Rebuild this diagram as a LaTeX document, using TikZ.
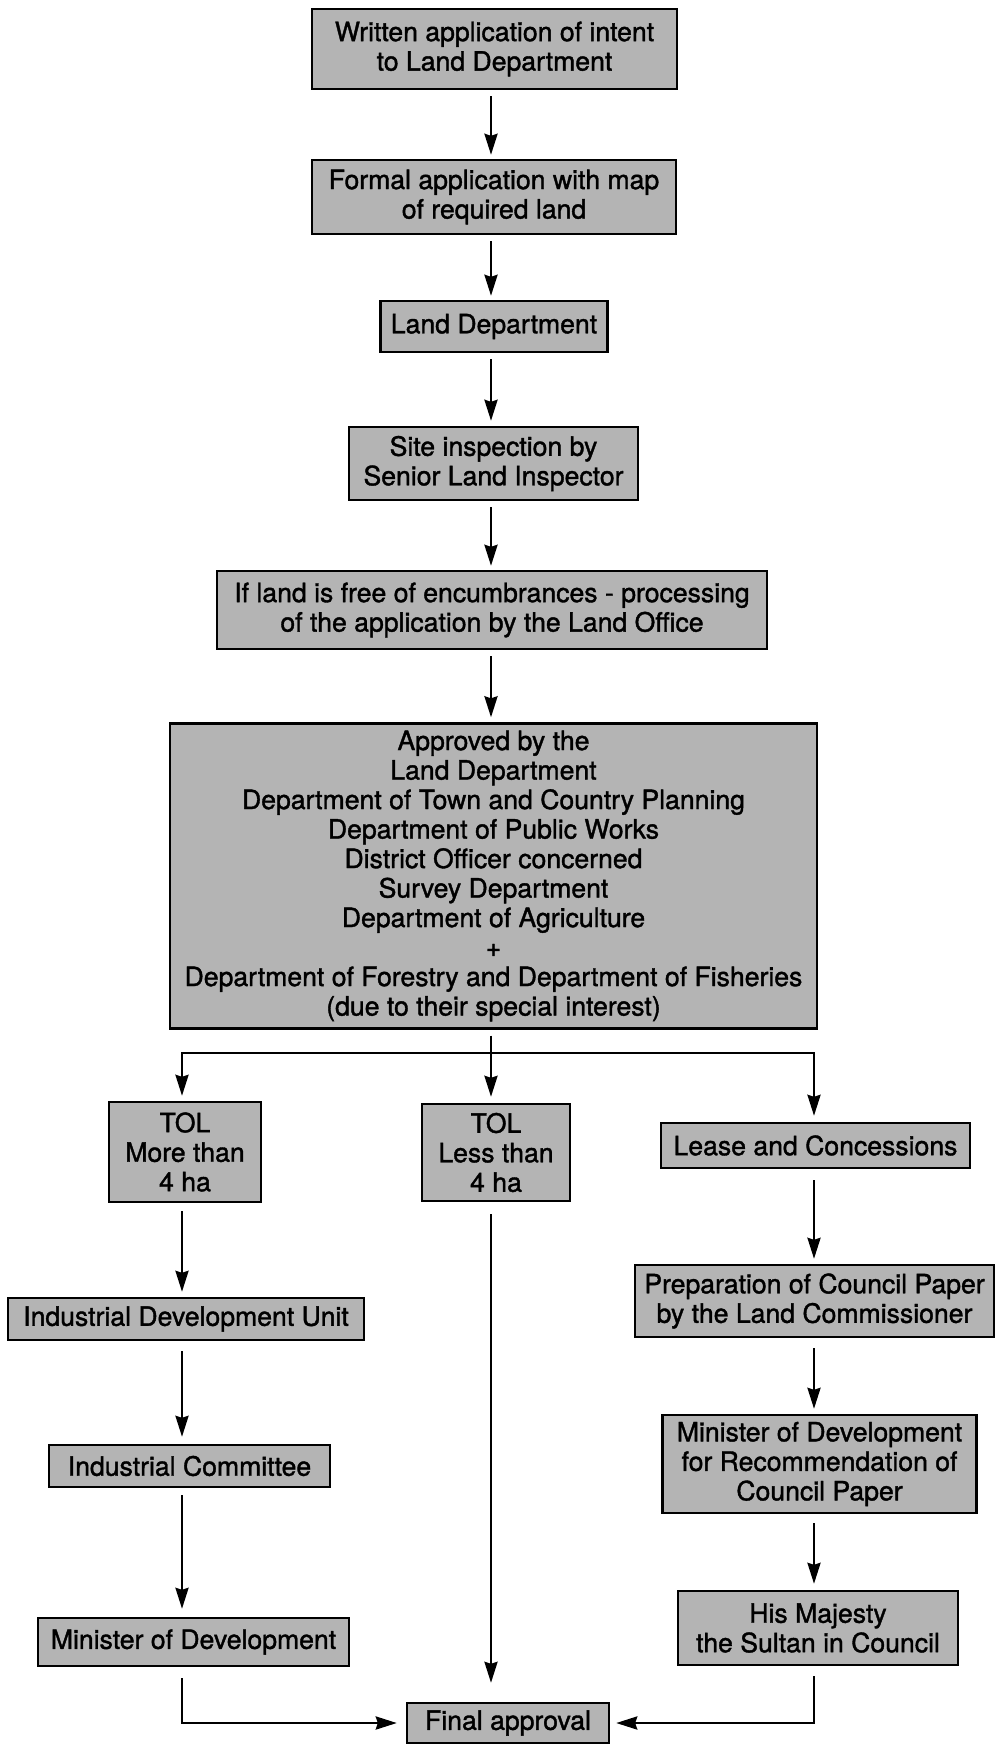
\documentclass[tikz,border=0pt]{standalone}
\usepackage{fontspec}
\setmainfont{TeX Gyre Heros}
\newfontfamily\heavyfont{TeX Gyre Heros}[FakeBold=1.4]
\usetikzlibrary{arrows.meta}
\definecolor{boxgray}{RGB}{180,180,180}
\newcommand{\boxfont}{\heavyfont\fontsize{26.6}{29.5}\selectfont}
\tikzset{
  box/.style={draw, line width=2.4pt, fill=boxgray, inner sep=0pt, align=center, font=\boxfont},
  arr/.style={-{Stealth[length=21pt,width=13pt,inset=2pt]}, line width=2.6pt},
  plain/.style={line width=2.6pt}
}
\begin{document}
\begin{tikzpicture}[x=1pt,y=-1pt]
\useasboundingbox[fill=white] (0,0) rectangle (995,1745);
% column coordinates
\coordinate (cM) at (491,0);
\coordinate (cL) at (182,0);
\coordinate (cR) at (814,0);
\coordinate (split) at (491,1053);
% main column
\node[box, minimum width=365pt, minimum height=80pt] (b1) at (494.5,49) {Written application of intent\\to Land Department};
\node[box, minimum width=364pt, minimum height=74pt] (b2) at (494,197) {Formal application with map\\of required land};
\node[box, minimum width=227pt, minimum height=51pt] (b3) at (494,326.5) {Land Department};
\node[box, minimum width=289pt, minimum height=73pt] (b4) at (493.5,463.5) {Site inspection by\\Senior Land Inspector};
\node[box, minimum width=550pt, minimum height=78pt] (b5) at (492,610) {If land is free of encumbrances - processing\\of the application by the Land Office};
\node[box, minimum width=647pt, minimum height=305pt] (b6) at (493.5,876) {Approved by the\\Land Department\\Department of Town and Country Planning\\Department of Public Works\\District Officer concerned\\Survey Department\\Department of Agriculture\\+\\Department of Forestry and Department of Fisheries\\(due to their special interest)};
% branches
\node[box, minimum width=152pt, minimum height=100pt] (tolm) at (185,1152) {TOL\\More than\\4 ha};
\node[box, minimum width=148pt, minimum height=97pt] (toll) at (496,1152.5) {TOL\\Less than\\4 ha};
\node[box, minimum width=309pt, minimum height=45pt] (lease) at (815.5,1145.5) {Lease and Concessions};
% left column
\node[box, minimum width=356pt, minimum height=42pt] (idu) at (186,1319) {Industrial Development Unit};
\node[box, minimum width=281pt, minimum height=42pt] (ic) at (189.5,1466) {Industrial Committee};
\node[box, minimum width=311pt, minimum height=48pt] (mod) at (193.5,1642) {Minister of Development};
% right column
\node[box, minimum width=359pt, minimum height=72pt] (prep) at (814.5,1301) {Preparation of Council Paper\\by the Land Commissioner};
\node[box, minimum width=314pt, minimum height=98pt] (mdr) at (819.5,1464) {Minister of Development\\for Recommendation of\\Council Paper};
\node[box, minimum width=280pt, minimum height=74pt] (hm) at (818,1628) {His Majesty\\the Sultan in Council};
% final
\node[box, minimum width=202pt, minimum height=40pt] (fa) at (508,1723) {Final approval};
% main connectors
\draw[arr, shorten <=6pt, shorten >=4pt] (b1.south -| cM) -- (b2.north -| cM);
\draw[arr, shorten <=6pt, shorten >=4pt] (b2.south -| cM) -- (b3.north -| cM);
\draw[arr, shorten <=6pt, shorten >=5pt] (b3.south -| cM) -- (b4.north -| cM);
\draw[arr, shorten <=6pt, shorten >=4pt] (b4.south -| cM) -- (b5.north -| cM);
\draw[arr, shorten <=6pt, shorten >=5pt] (b5.south -| cM) -- (b6.north -| cM);
% split
\draw[arr, shorten <=6pt, shorten >=6pt] (b6.south -| cM) -- (toll.north -| cM);
\draw[arr, shorten >=5pt] (split) -| (tolm.north -| cL);
\draw[arr, shorten >=6pt] (split) -| (lease.north -| cR);
% left column connectors
\draw[arr, shorten <=8pt, shorten >=5pt] (tolm.south -| cL) -- (idu.north -| cL);
\draw[arr, shorten <=10pt, shorten >=7pt] (idu.south -| cL) -- (ic.north -| cL);
\draw[arr, shorten <=7pt, shorten >=8pt] (ic.south -| cL) -- (mod.north -| cL);
\draw[arr, shorten <=11pt, shorten >=9pt] (mod.south -| cL) |- (fa.west);
% center
\draw[arr, shorten <=12pt, shorten >=19pt] (toll.south -| cM) -- (fa.north -| cM);
% right column connectors
\draw[arr, shorten <=11pt, shorten >=5pt] (lease.south -| cR) -- (prep.north -| cR);
\draw[arr, shorten <=10pt, shorten >=5pt] (prep.south -| cR) -- (mdr.north -| cR);
\draw[arr, shorten <=9pt, shorten >=6pt] (mdr.south -| cR) -- (hm.north -| cR);
\draw[arr, shorten <=10pt, shorten >=6pt] (hm.south -| cR) |- (fa.east);
\end{tikzpicture}
\end{document}
